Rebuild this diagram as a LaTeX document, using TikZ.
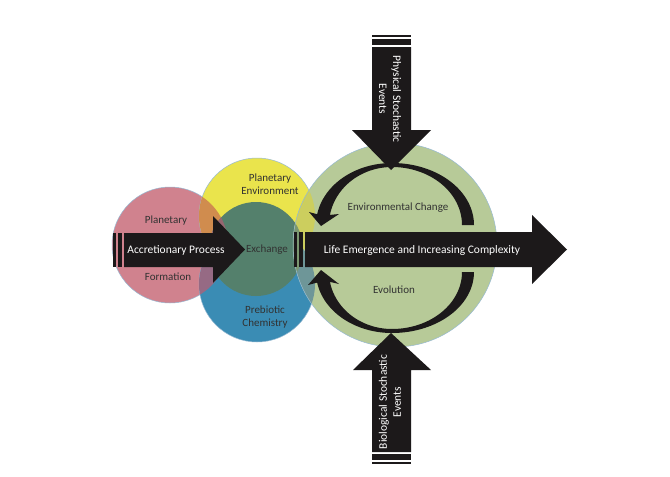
\documentclass[tikz,border=0pt]{standalone}
\usepackage{fontspec}
\setmainfont{Carlito}
\usepackage{tikz}
\definecolor{planred}{RGB}{208,130,142}
\definecolor{planyellow}{RGB}{234,228,76}
\definecolor{planblue}{RGB}{58,140,180}
\definecolor{exteal}{RGB}{84,128,108}
\definecolor{redyellow}{RGB}{208,140,78}
\definecolor{redblue}{RGB}{150,106,132}
\definecolor{redteal}{RGB}{150,102,112}
\definecolor{lifegreen}{RGB}{183,202,152}
\definecolor{greenyellow}{RGB}{204,206,94}
\definecolor{greenblue}{RGB}{110,150,152}
\definecolor{greenteal}{RGB}{122,152,112}
\definecolor{rimblue}{RGB}{150,185,210}
\definecolor{arrowblack}{RGB}{28,25,26}
\definecolor{labelgray}{RGB}{50,50,50}

\begin{document}
\begin{tikzpicture}[x=1pt,y=-1pt,
	circlabel/.style={text=labelgray,font=\fontsize{11}{13.5}\selectfont,align=center},
	arrowlabel/.style={text=white,font=\fontsize{11.5}{14}\selectfont,align=center},
	rim/.style={draw=rimblue,line width=0.5pt}]
	\fill[white] (0,0) rectangle (670,477);
	\useasboundingbox (0,0) rectangle (670,477);
	\fill[planred,rim] (170,245) circle (58);
	\fill[planyellow,rim] (257,216) circle (58);
	\fill[planblue,rim] (257,284) circle (58);
	\begin{scope}
		\clip (170,245) circle (58);
		\fill[redyellow] (257,216) circle (58);
		\fill[redblue] (257,284) circle (58);
	\end{scope}
	\fill[exteal] (256,249) circle (47);
	\begin{scope}
		\clip (170,245) circle (58);
		\fill[redteal] (256,249) circle (47);
	\end{scope}
	\fill[lifegreen] (395,245) circle (102);
	\begin{scope}
		\clip (395,245) circle (102);
		\fill[greenyellow] (257,216) circle (58);
		\fill[greenblue] (257,284) circle (58);
		\fill[greenteal] (256,249) circle (47);
	\end{scope}
	\draw[rim] (395,245) circle (102);
	\node[circlabel] (planetary) at (166,221) {Planetary};
	\node[circlabel] (formation) at (168,277) {Formation};
	\node[circlabel] (environment) at (270,184) {Planetary\\Environment};
	\node[circlabel] (exchange) at (267,250) {Exchange};
	\node[circlabel] (prebiotic) at (265,317) {Prebiotic\\Chemistry};
	\node[circlabel] (envchange) at (398,208) {Environmental Change};
	\node[circlabel] (evolution) at (394,290) {Evolution};
	\fill[arrowblack] plot[domain=270:190,samples=40] ({392+76*cos(\x)},{225+62*sin(\x)}) -- (309,212) -- (321,226) -- (339,214) -- plot[domain=190:270,samples=40] ({392+63*cos(\x)},{225+58*sin(\x)}) -- cycle;
	\fill[arrowblack] plot[domain=270:360,samples=40] ({392+82*cos(\x)},{225+62*sin(\x)}) -- plot[domain=360:270,samples=40] ({392+70*cos(\x)},{225+58*sin(\x)}) -- cycle;
	\fill[arrowblack] plot[domain=90:170,samples=40] ({392+76*cos(\x)},{272+61*sin(\x)}) -- (308,285) -- (321,270) -- (339,284) -- plot[domain=170:90,samples=40] ({392+63*cos(\x)},{272+57*sin(\x)}) -- cycle;
	\fill[arrowblack] plot[domain=90:0,samples=40] ({392+82*cos(\x)},{272+61*sin(\x)}) -- plot[domain=0:90,samples=40] ({392+70*cos(\x)},{272+57*sin(\x)}) -- cycle;
	\fill[arrowblack] (113,233) rectangle (116,267);
	\fill[arrowblack] (118,233) rectangle (122,267);
	\fill[arrowblack] (124,233) -- (213,233) -- (213,216) -- (245,249.5) -- (213,283) -- (213,267) -- (124,267) -- cycle;
	\node[arrowlabel] (accretion) at (176,250) {Accretionary Process};
	\fill[arrowblack] (294,232) rectangle (297,267);
	\fill[arrowblack] (299,232) rectangle (303,267);
	\fill[arrowblack] (305,232) -- (532,232) -- (532,215) -- (567,249.5) -- (532,284) -- (532,267) -- (305,267) -- cycle;
	\node[arrowlabel] (life) at (422,250) {Life Emergence and Increasing Complexity};
	\fill[arrowblack] (372,35) rectangle (411,37);
	\fill[arrowblack] (372,39) rectangle (411,45);
	\fill[arrowblack] (372,47) -- (372,130) -- (352,130) -- (391,170) -- (431,130) -- (411,130) -- (411,47) -- cycle;
	\node[arrowlabel,rotate=-90] (physical) at (390,99) {Physical Stochastic\\Events};
	\fill[arrowblack] (372,452) -- (372,370) -- (353,370) -- (391,333) -- (431,370) -- (411,370) -- (411,452) -- cycle;
	\fill[arrowblack] (372,454) rectangle (411,460);
	\fill[arrowblack] (372,462) rectangle (411,464);
	\node[arrowlabel,rotate=90] (biological) at (390,402) {Biological Stochastic\\Events};
\end{tikzpicture}
\end{document}
